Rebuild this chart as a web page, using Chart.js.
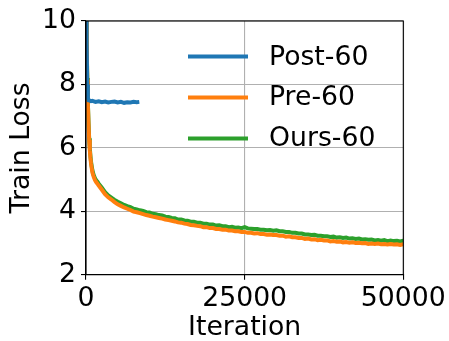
<!DOCTYPE html>
<html>
<head>
<meta charset="utf-8">
<script src="https://cdn.jsdelivr.net/npm/chart.js@4.4.1/dist/chart.umd.min.js"></script>
<style>
  html, body { margin: 0; padding: 0; background: #ffffff; }
  #wrap { width: 449px; height: 341px; }
</style>
</head>
<body>
<div id="wrap"><canvas id="c" width="449" height="341"></canvas></div>
<script>
// ---- data ----
const seriesLabels = ['Post-60', 'Pre-60', 'Ours-60'];
const xTicks = [0, 25000, 50000];
const yTicks = [2, 4, 6, 8, 10];

const postIters = [0, 100, 200, 300, 400, 600, 800, 1000, 1500, 2000, 2500, 3000, 3500, 4000, 4500, 5000, 5500, 6000, 6500, 7000, 7500, 8000, 8400];
const postLoss  = [11.0, 9.3, 8.0, 7.58, 7.50, 7.49, 7.47, 7.48, 7.45, 7.47, 7.44, 7.46, 7.43, 7.45, 7.46, 7.43, 7.45, 7.42, 7.44, 7.43, 7.45, 7.44, 7.45];

const curveIters = [0, 100, 200, 300, 400, 500, 600, 700, 800, 1000, 1200, 1400, 1600, 1800,
  2000, 2500, 3000, 3500, 4000, 4500, 5000, 5500, 6000, 6500, 7000, 7500, 8000, 8500, 9000, 9500,
  10000, 10500, 11000, 11500, 12000, 12500, 13000, 13500, 14000, 14500, 15000, 15500, 16000, 16500,
  17000, 17500, 18000, 18500, 19000, 19500, 20000, 20500, 21000, 21500, 22000, 22500, 23000, 23500,
  24000, 24500, 25000, 25500, 26000, 26500, 27000, 27500, 28000, 28500, 29000, 29500, 30000, 30500,
  31000, 31500, 32000, 32500, 33000, 33500, 34000, 34500, 35000, 35500, 36000, 36500, 37000, 37500,
  38000, 38500, 39000, 39500, 40000, 40500, 41000, 41500, 42000, 42500, 43000, 43500, 44000, 44500,
  45000, 45500, 46000, 46500, 47000, 47500, 48000, 48500, 49000, 49500, 50000];

const preLoss = [10.95, 9.35, 8.15, 7.35, 6.75, 6.25, 5.93, 5.68, 5.49, 5.23, 5.09, 4.99, 4.92, 4.87,
  4.81, 4.68, 4.54, 4.44, 4.37, 4.29, 4.22, 4.17, 4.12, 4.08, 4.04, 3.99, 3.97, 3.94, 3.91, 3.88,
  3.86, 3.83, 3.81, 3.79, 3.77, 3.74, 3.72, 3.70, 3.68, 3.65, 3.64, 3.61, 3.60, 3.57,
  3.56, 3.54, 3.53, 3.50, 3.50, 3.47, 3.47, 3.44, 3.44, 3.42, 3.42, 3.39, 3.39, 3.37,
  3.37, 3.35, 3.35, 3.32, 3.32, 3.30, 3.31, 3.28, 3.28, 3.26, 3.27, 3.25, 3.25, 3.23,
  3.23, 3.20, 3.21, 3.18, 3.18, 3.16, 3.16, 3.13, 3.14, 3.11, 3.12, 3.09, 3.10, 3.08,
  3.08, 3.05, 3.06, 3.04, 3.05, 3.02, 3.03, 3.01, 3.02, 3.00, 3.01, 2.99, 3.00, 2.97,
  2.98, 2.97, 2.98, 2.96, 2.97, 2.95, 2.97, 2.95, 2.96, 2.94, 2.96];

const oursLoss = [11.0, 9.4, 8.2, 7.4, 6.8, 6.3, 6.0, 5.75, 5.55, 5.3, 5.15, 5.05, 4.98, 4.93,
  4.87, 4.74, 4.60, 4.50, 4.43, 4.36, 4.30, 4.25, 4.20, 4.16, 4.13, 4.08, 4.06, 4.03, 4.01, 3.97,
  3.96, 3.92, 3.91, 3.88, 3.87, 3.83, 3.82, 3.79, 3.78, 3.74, 3.74, 3.71, 3.70, 3.67,
  3.67, 3.64, 3.64, 3.61, 3.61, 3.58, 3.58, 3.55, 3.56, 3.53, 3.53, 3.50, 3.51, 3.48,
  3.49, 3.47, 3.50, 3.46, 3.45, 3.44, 3.44, 3.42, 3.42, 3.40, 3.41, 3.39, 3.40, 3.37,
  3.37, 3.35, 3.35, 3.32, 3.32, 3.30, 3.30, 3.27, 3.27, 3.25, 3.26, 3.23, 3.23, 3.21,
  3.21, 3.19, 3.20, 3.17, 3.18, 3.16, 3.17, 3.14, 3.15, 3.13, 3.14, 3.11, 3.12, 3.10,
  3.11, 3.08, 3.09, 3.07, 3.09, 3.06, 3.08, 3.06, 3.07, 3.05, 3.07];

const colors = ['#1f77b4', '#ff7f0e', '#2ca02c'];

function pts(xs, ys) { return xs.map((x, i) => ({ x: x, y: ys[i] })); }

const FONT = { family: '"DejaVu Sans", sans-serif', size: 26.7 };

const framePlugin = {
  id: 'frame',
  afterDatasetsDraw(chart) {
    const a = chart.chartArea, ctx = chart.ctx;
    ctx.save();
    ctx.strokeStyle = '#000000';
    ctx.lineWidth = 1.1;
    ctx.strokeRect(a.left, a.top, a.right - a.left, a.bottom - a.top);
    ctx.restore();
  }
};

const legendPlugin = {
  id: 'insideLegend',
  afterDraw(chart) {
    const a = chart.chartArea, ctx = chart.ctx;
    const ds = chart.data.datasets;
    ctx.save();
    ctx.font = FONT.size + 'px ' + FONT.family;
    ctx.textBaseline = 'middle';
    ctx.textAlign = 'left';
    const x0 = a.left + 102, x1 = a.left + 162, tx = a.left + 183;
    const y0 = a.top + 35.6, dy = 40.9;
    ds.forEach((d, i) => {
      const y = y0 + i * dy;
      ctx.strokeStyle = d.borderColor;
      ctx.lineWidth = 4;
      ctx.beginPath(); ctx.moveTo(x0, y); ctx.lineTo(x1, y); ctx.stroke();
      ctx.fillStyle = '#000000';
      ctx.fillText(d.label, tx, y + 1);
    });
    ctx.restore();
  }
};

new Chart(document.getElementById('c'), {
  type: 'line',
  data: {
    datasets: [
      { label: seriesLabels[0], data: pts(postIters, postLoss), borderColor: colors[0] },
      { label: seriesLabels[1], data: pts(curveIters, preLoss), borderColor: colors[1] },
      { label: seriesLabels[2], data: pts(curveIters, oursLoss), borderColor: colors[2] }
    ].map(d => Object.assign(d, { borderWidth: 4, pointRadius: 0, tension: 0, fill: false, clip: 0, backgroundColor: d.borderColor }))
  },
  options: {
    responsive: false,
    animation: false,
    devicePixelRatio: 1,
    layout: { padding: { top: 18.7, right: 45.7, bottom: 0, left: 0 } },
    plugins: { legend: { display: false }, tooltip: { enabled: false } },
    scales: {
      x: {
        type: 'linear', min: 0, max: 50000,
        afterBuildTicks: s => { s.ticks = xTicks.map(v => ({ value: v })); },
        afterFit: s => { s.height = 66.3; },
        ticks: { font: FONT, color: '#000', padding: 3, maxRotation: 0, autoSkip: false, callback: v => String(v) },
        grid: { color: '#b0b0b0', lineWidth: 1.1, tickColor: '#000', tickLength: 5, drawTicks: true },
        border: { color: '#000', width: 1.1 },
        title: { display: true, text: 'Iteration', font: Object.assign({}, FONT, { lineHeight: 1 }), color: '#000', padding: 0 }
      },
      y: {
        type: 'linear', min: 2, max: 10,
        afterBuildTicks: s => { s.ticks = yTicks.map(v => ({ value: v })); },
        afterFit: s => { s.width = 86; },
        ticks: { font: FONT, color: '#000', padding: 5, callback: v => String(v) },
        grid: { color: '#b0b0b0', lineWidth: 1.1, tickColor: '#000', tickLength: 5, drawTicks: true },
        border: { color: '#000', width: 1.1 },
        title: { display: true, text: 'Train Loss', font: Object.assign({}, FONT, { lineHeight: 1 }), color: '#000', padding: { top: 9, bottom: 0 } }
      }
    }
  },
  plugins: [framePlugin, legendPlugin]
});
</script>
</body>
</html>
